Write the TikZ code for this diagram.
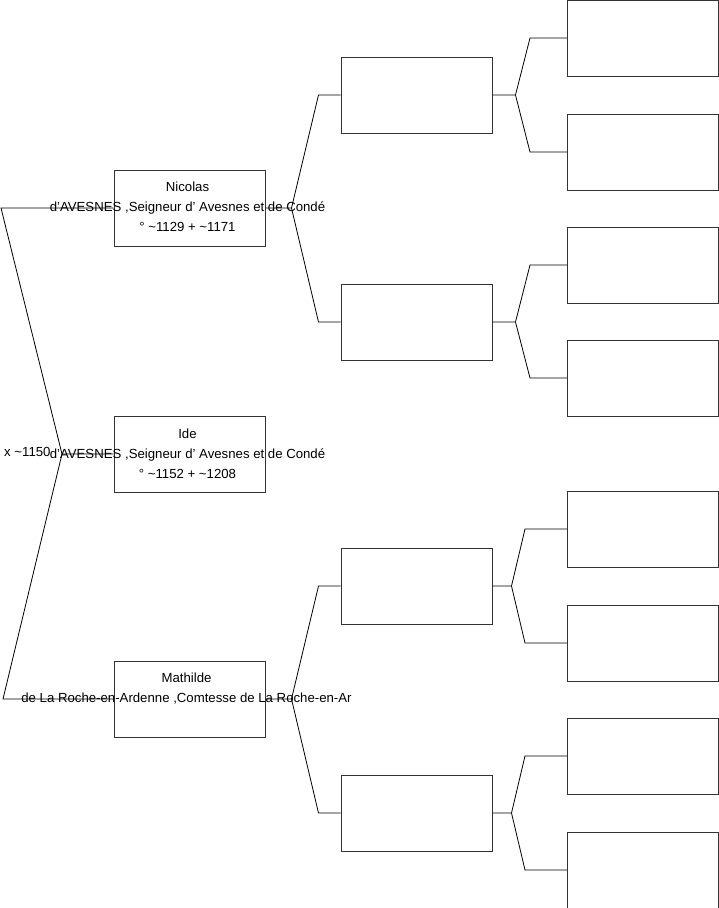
\documentclass[tikz,border=0pt]{standalone}
\usepackage{fontspec}
\setmainfont{Liberation Sans}
\usetikzlibrary{positioning}
\newcommand{\apos}{\char"0027\relax}
\newcommand{\tld}{\char"007E\relax}

\begin{document}
\begin{tikzpicture}[x=1pt,y=-1pt,
  person/.style={draw=black!80,line width=1pt,minimum width=151pt,minimum height=76pt,inner sep=0pt},
  who/.style={align=center,font=\fontsize{13.2}{20}\selectfont,inner sep=0pt},
  link/.style={line width=.8pt}]
\useasboundingbox (0,0) rectangle (719,908);
% generation 1
\node[person] (nicolas) at (189.5,208) {};
\node[person] (ide) at (189.5,454) {};
\node[person] (mathilde) at (189.5,699) {};
% generation 2
\foreach \n/\y in {n1/95,n2/322,m1/586,m2/813} {
  \node[person] (\n) at (416.5,\y) {};
}
% generation 3
\foreach \n/\y in {n11/38,n12/152,n21/265,n22/378,m11/529,m12/643,m21/756,m22/870} {
  \node[person] (\n) at (643,\y) {};
}
% child to parents
\coordinate (wedfork) at (62,454);
\coordinate (wedtop) at (1,208);
\coordinate (wedbot) at (3,699);
\draw[link] (ide.west) -- (wedfork) -- (wedtop) -- (nicolas.west);
\draw[link] (wedfork) -- (wedbot) -- (mathilde.west);
\node[who,anchor=west] (wed) at (4,452) {x \tld1150};
% forks
\foreach \p/\a/\b in {nicolas/n1/n2,mathilde/m1/m2} {
  \draw[link] (\p.east) -- ++(26,0) coordinate (\p-fork)
    -- ([xshift=-22pt]\a.west) -- (\a.west)
    (\p-fork) -- ([xshift=-22pt]\b.west) -- (\b.west);
}
\foreach \p/\a/\b/\s/\t in {n1/n11/n12/23/37,n2/n21/n22/23/37,m1/m11/m12/19/42,m2/m21/m22/19/42} {
  \draw[link] (\p.east) -- ++(\s,0) coordinate (\p-fork)
    -- ([xshift=-\t pt]\a.west) -- (\a.west)
    (\p-fork) -- ([xshift=-\t pt]\b.west) -- (\b.west);
}
% names
\node[who] (nicolas-txt) at ([xshift=-2pt,yshift=1pt]nicolas) {Nicolas\\d\apos AVESNES ,Seigneur d\apos{} Avesnes et de Condé\\° \tld1129 + \tld1171};
\node[who] (ide-txt) at ([xshift=-2pt]ide) {Ide\\d\apos AVESNES ,Seigneur d\apos{} Avesnes et de Condé\\° \tld1152 + \tld1208};
\node[who] (mathilde-txt) at ([xshift=-3pt,yshift=1pt]mathilde) {Mathilde\\de La Roche-en-Ardenne ,Comtesse de La Roche-en-Ar\\\mbox{}};
\end{tikzpicture}
\end{document}
